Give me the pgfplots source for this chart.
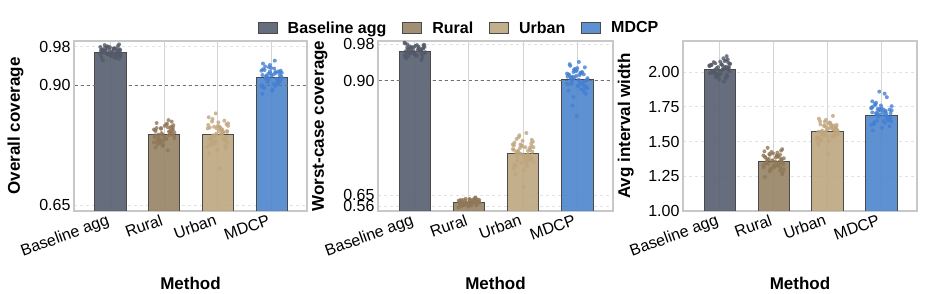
\documentclass[border=0pt]{standalone}
\usepackage{pgfplots}
\pgfplotsset{compat=1.18}
\usepackage{fontspec}
\setmainfont{Liberation Sans}
\definecolor{cBase}{HTML}{555E70}
\definecolor{cRural}{HTML}{968363}
\definecolor{cUrban}{HTML}{BCA67E}
\definecolor{cMDCP}{HTML}{4D85CD}
\definecolor{pBase}{HTML}{535A67}
\definecolor{pRural}{HTML}{8F7758}
\definecolor{pUrban}{HTML}{C0A57D}
\definecolor{pMDCP}{HTML}{4480D2}
\definecolor{edgec}{HTML}{4A4A4A}
\definecolor{gridv}{HTML}{D4D4D4}
\definecolor{gridh}{HTML}{E2E2E2}
\definecolor{frame}{HTML}{C8C8C8}
\definecolor{refl}{HTML}{707070}
\begin{document}
\begin{tikzpicture}
\useasboundingbox (0pt,0pt) rectangle (927pt,294pt);
\pgfplotsset{
  panel/.style={
    scale only axis, height=170pt,
    xmin=-0.68, xmax=3.66,
    xtick={0,1,2,3},
    xticklabels={Baseline agg,Rural,Urban,MDCP},
    x tick label style={rotate=20, anchor=north east, font=\fontsize{16}{19}\selectfont, inner sep=1pt, xshift=-4pt},
    y tick label style={font=\fontsize{16}{19}\selectfont},
    major tick length=0pt,
    xmajorgrids, ymajorgrids,
    x grid style={draw=gridv, line width=1pt},
    y grid style={draw=gridh, dashed, line width=0.8pt},
    axis line style={draw=frame, line width=1.2pt},
    xlabel={Method},
    xlabel style={font=\fontsize{17}{20}\selectfont\bfseries, at={(axis description cs:0.5,-0.459)}, anchor=base},
    ylabel style={font=\fontsize{17}{20}\selectfont\bfseries, anchor=base},
  },
  barB/.style={ybar, bar width=0.58, bar shift=0pt, fill=cBase, fill opacity=0.9, draw=edgec, line width=0.9pt, forget plot},
  barR/.style={ybar, bar width=0.58, bar shift=0pt, fill=cRural, fill opacity=0.9, draw=edgec, line width=0.9pt, forget plot},
  barU/.style={ybar, bar width=0.58, bar shift=0pt, fill=cUrban, fill opacity=0.9, draw=edgec, line width=0.9pt, forget plot},
  barM/.style={ybar, bar width=0.58, bar shift=0pt, fill=cMDCP, fill opacity=0.9, draw=edgec, line width=0.9pt, forget plot},
  pts/.style={only marks, mark=*, mark size=2.0pt, color=#1, fill=#1, mark options={solid, draw opacity=0, fill opacity=0.8}, forget plot},
  refline/.style={refl, dashed, line width=1pt, forget plot},
}
% ---------------- Panel 1 ----------------
\begin{axis}[panel, at={(74pt,83pt)}, anchor=south west, width=233pt,
  ymin=0.6376, ymax=0.992, ytick={0.65,0.90,0.98}, yticklabels={0.65,0.90,0.98},
  ylabel={Overall coverage}, ylabel style={at={(axis description cs:-0.232,0.5)}}]
\addplot[barB] coordinates {(0,0.968)};
\addplot[barR] coordinates {(1,0.797)};
\addplot[barU] coordinates {(2,0.797)};
\addplot[barM] coordinates {(3,0.915)};
\addplot[refline] coordinates {(-1,0.90) (4,0.90)};
\addplot[pts=pBase] coordinates {(-0.18,0.9714) (0.05,0.9594) (0.12,0.9754) (-0.07,0.981) (0.19,0.9658) (-0.13,0.9698) (0.02,0.9618) (0.16,0.985) (-0.02,0.9738) (-0.16,0.9674) (0.09,0.9562) (-0.10,0.9778) (0.14,0.969) (-0.05,0.9642) (0.07,0.9762) (-0.19,0.9794) (0.00,0.961) (0.11,0.9722) (-0.08,0.9666) (0.17,0.9746) (-0.14,0.9514) (0.04,0.9706) (-0.11,0.9834) (0.13,0.9634) (-0.03,0.9682) (0.18,0.973) (-0.17,0.9578) (0.08,0.977) (-0.06,0.965) (0.15,0.9626)};
\addplot[pts=pBase] coordinates {(-0.15,0.9738) (0.10,0.9666) (-0.01,0.9786) (0.19,0.9602) (-0.12,0.9706) (0.06,0.9762) (-0.19,0.965) (0.14,0.9818) (0.01,0.9626) (-0.09,0.9722) (0.17,0.9682) (-0.04,0.9802) (0.12,0.9586) (-0.16,0.9746) (0.03,0.969) (0.09,0.9642) (-0.07,0.977) (0.16,0.9546) (-0.11,0.9714) (0.06,0.9754)};
\addplot[pts=pRural] coordinates {(1.15,0.7985) (0.94,0.7835) (1.08,0.827) (0.83,0.806) (1.18,0.794) (0.97,0.773) (1.13,0.8135) (0.89,0.797) (1.04,0.788) (0.86,0.8105) (1.17,0.8165) (0.92,0.782) (1.11,0.803) (1.00,0.7925) (0.81,0.8075) (1.07,0.764) (0.95,0.800) (1.14,0.824) (0.90,0.7865) (1.09,0.7955) (0.84,0.8045) (0.98,0.776) (1.16,0.812) (1.02,0.7895) (0.87,0.785) (1.19,0.8015) (0.93,0.779) (1.12,0.809) (1.05,0.8195) (0.82,0.791)};
\addplot[pts=pRural] coordinates {(1.15,0.806) (0.90,0.7925) (1.01,0.815) (0.81,0.7805) (1.12,0.800) (0.94,0.8105) (1.19,0.7895) (0.86,0.821) (0.99,0.785) (1.09,0.803) (0.83,0.7955) (1.04,0.818) (0.88,0.7775) (1.16,0.8075) (0.97,0.797) (0.91,0.788) (1.07,0.812) (0.84,0.770) (1.11,0.8015) (0.94,0.809)};
\addplot[pts=pUrban] coordinates {(1.82,0.8168) (2.05,0.797) (2.12,0.7862) (1.93,0.8132) (2.19,0.8204) (1.87,0.779) (2.02,0.8042) (2.16,0.7916) (1.98,0.8096) (1.84,0.7574) (2.09,0.8006) (1.90,0.8294) (2.14,0.7844) (1.95,0.7952) (2.07,0.806) (1.81,0.7718) (2.00,0.815) (2.11,0.788) (1.92,0.7826) (2.17,0.8024) (1.86,0.7754) (2.04,0.8114) (1.89,0.824) (2.13,0.7898) (1.97,0.7988) (2.18,0.7808) (1.83,0.833) (2.08,0.8078) (1.94,0.7934) (2.15,0.7682) (2.03,0.727) (1.96,0.841)};
\addplot[pts=pUrban] coordinates {(1.85,0.8114) (2.10,0.8024) (1.99,0.7646) (2.19,0.815) (1.88,0.7862) (2.06,0.797) (1.81,0.8096) (2.14,0.7736) (2.01,0.8222) (1.91,0.7952) (2.17,0.8042) (1.96,0.7826) (2.12,0.8258) (1.84,0.788) (2.03,0.8132) (2.09,0.8006) (1.93,0.7772) (2.16,0.8186) (1.89,0.7916) (2.06,0.8078)};
\addplot[pts=pMDCP] coordinates {(3.15,0.921) (2.94,0.9105) (3.08,0.9255) (2.83,0.882) (3.18,0.918) (2.97,0.942) (3.13,0.9045) (2.89,0.9135) (3.04,0.9225) (2.86,0.894) (3.17,0.930) (2.92,0.9075) (3.11,0.903) (3.00,0.9195) (2.81,0.897) (3.07,0.927) (2.95,0.9375) (3.14,0.909) (2.90,0.9165) (3.09,0.9015) (2.84,0.945) (2.98,0.924) (3.16,0.912) (3.02,0.891) (2.87,0.9315) (3.19,0.915) (2.93,0.906) (3.12,0.9285) (3.05,0.9345) (2.82,0.900) (3.06,0.951)};
\addplot[pts=pMDCP] coordinates {(3.15,0.927) (2.90,0.9195) (3.01,0.888) (2.81,0.930) (3.12,0.906) (2.94,0.915) (3.19,0.9255) (2.86,0.8955) (2.99,0.936) (3.09,0.9135) (2.83,0.921) (3.04,0.903) (2.88,0.939) (3.16,0.9075) (2.97,0.9285) (2.91,0.918) (3.07,0.8985) (2.84,0.933) (3.11,0.9105) (2.94,0.924)};
\end{axis}
% ---------------- Panel 2 ----------------
\begin{axis}[panel, at={(378pt,83pt)}, anchor=south west, width=235pt,
  ymin=0.616, ymax=0.9866, ytick={0.626,0.65,0.90,0.98}, yticklabels={0.56,0.65,0.90,0.98},
  ylabel={Worst-case coverage}, ylabel style={at={(axis description cs:-0.23,0.5)}},
  legend columns=4,
  legend style={at={(axis description cs:0.345,1.076)}, anchor=center, draw=none, fill=none,
    font=\fontsize{16}{19}\selectfont\bfseries,
    /tikz/every even column/.append style={column sep=14pt}},
  legend image code/.code={\draw[#1] (0pt,-5.5pt) rectangle (19pt,5.5pt); \path (27pt,0pt);}]
\addlegendimage{fill=cBase, fill opacity=0.9, draw=edgec, line width=0.9pt}
\addlegendentry{Baseline agg}
\addlegendimage{fill=cRural, fill opacity=0.9, draw=edgec, line width=0.9pt}
\addlegendentry{Rural}
\addlegendimage{fill=cUrban, fill opacity=0.9, draw=edgec, line width=0.9pt}
\addlegendentry{Urban}
\addlegendimage{fill=cMDCP, fill opacity=0.9, draw=edgec, line width=0.9pt}
\addlegendentry{MDCP}
\addplot[barB] coordinates {(0,0.964)};
\addplot[barR] coordinates {(1,0.635)};
\addplot[barU] coordinates {(2,0.741)};
\addplot[barM] coordinates {(3,0.902)};
\addplot[refline] coordinates {(-1,0.90) (4,0.90)};
\addplot[pts=pBase] coordinates {(0.15,0.9587) (-0.06,0.9641) (0.08,0.9695) (-0.17,0.9524) (0.18,0.974) (-0.03,0.9605) (0.13,0.9578) (-0.11,0.9677) (0.04,0.9542) (-0.14,0.9722) (0.17,0.9785) (-0.08,0.9614) (0.11,0.9659) (0.00,0.9569) (-0.19,0.983) (0.07,0.9704) (-0.05,0.9632) (0.14,0.9506) (-0.10,0.9749) (0.09,0.965) (-0.16,0.9596) (-0.02,0.9731) (0.16,0.9767) (0.02,0.956) (-0.13,0.9686) (0.19,0.9623) (-0.07,0.9713) (0.12,0.9452) (0.05,0.9668) (-0.18,0.9812)};
\addplot[pts=pBase] coordinates {(0.15,0.9704) (-0.10,0.9623) (0.01,0.9758) (-0.19,0.9551) (0.12,0.9668) (-0.06,0.9731) (0.19,0.9605) (-0.14,0.9794) (-0.01,0.9578) (0.09,0.9686) (-0.17,0.9641) (0.04,0.9776) (-0.12,0.9533) (0.16,0.9713) (-0.03,0.965) (-0.09,0.9596) (0.07,0.974) (-0.16,0.9488) (0.11,0.9677) (-0.06,0.9722)};
\addplot[pts=pRural] coordinates {(0.82,0.6355) (1.05,0.6305) (1.12,0.645) (0.93,0.638) (1.19,0.634) (0.87,0.627) (1.02,0.6405) (1.16,0.635) (0.98,0.632) (0.84,0.6395) (1.09,0.6415) (0.90,0.630) (1.14,0.637) (0.95,0.6335) (1.07,0.6385) (0.81,0.624) (1.00,0.636) (1.11,0.644) (0.92,0.6315) (1.17,0.6345) (0.86,0.6375) (1.04,0.628) (0.89,0.640) (1.13,0.6325) (0.97,0.631) (1.18,0.6365) (0.83,0.629) (1.08,0.639) (0.94,0.6425) (1.15,0.633)};
\addplot[pts=pRural] coordinates {(0.85,0.639) (1.10,0.6365) (0.99,0.626) (1.19,0.640) (0.88,0.632) (1.06,0.635) (0.81,0.6385) (1.14,0.6285) (1.01,0.642) (0.91,0.6345) (1.17,0.637) (0.96,0.631) (1.12,0.643) (0.84,0.6325) (1.03,0.6395) (1.09,0.636) (0.93,0.6295) (1.16,0.641) (0.89,0.6335) (1.06,0.638)};
\addplot[pts=pUrban] coordinates {(2.15,0.763) (1.94,0.741) (2.08,0.729) (1.83,0.759) (2.18,0.767) (1.97,0.721) (2.13,0.749) (1.89,0.735) (2.04,0.755) (1.86,0.697) (2.17,0.745) (1.92,0.777) (2.11,0.727) (2.00,0.739) (1.81,0.751) (2.07,0.713) (1.95,0.761) (2.14,0.731) (1.90,0.725) (2.09,0.747) (1.84,0.717) (1.98,0.757) (2.16,0.771) (2.02,0.733) (1.87,0.743) (2.19,0.723) (1.93,0.781) (2.12,0.753) (2.05,0.737) (1.82,0.709) (2.01,0.669) (2.06,0.786)};
\addplot[pts=pUrban] coordinates {(2.15,0.757) (1.90,0.747) (2.01,0.705) (1.81,0.761) (2.12,0.729) (1.94,0.741) (2.19,0.755) (1.86,0.715) (1.99,0.769) (2.09,0.739) (1.83,0.749) (2.04,0.725) (1.88,0.773) (2.16,0.731) (1.97,0.759) (1.91,0.745) (2.07,0.719) (1.84,0.765) (2.11,0.735) (1.94,0.753)};
\addplot[pts=pMDCP] coordinates {(2.82,0.9088) (3.05,0.8969) (3.12,0.9139) (2.93,0.8646) (3.19,0.9054) (2.87,0.9326) (3.02,0.8901) (3.16,0.9003) (2.98,0.9105) (2.84,0.8782) (3.09,0.919) (2.90,0.8935) (3.14,0.8884) (2.95,0.9071) (3.07,0.8816) (2.81,0.9156) (3.00,0.9275) (3.11,0.8952) (2.92,0.9037) (3.17,0.8867) (2.86,0.936) (3.04,0.9122) (2.89,0.8986) (3.13,0.8748) (2.97,0.9207) (3.18,0.902) (2.83,0.8918) (3.08,0.9173) (2.94,0.9241) (3.15,0.885) (2.99,0.823) (3.03,0.941) (2.91,0.846)};
\addplot[pts=pMDCP] coordinates {(2.85,0.9122) (3.10,0.8969) (2.99,0.9224) (3.19,0.8833) (2.88,0.9054) (3.06,0.9173) (2.81,0.8935) (3.14,0.9292) (3.01,0.8884) (2.91,0.9088) (3.17,0.9003) (2.96,0.9258) (3.12,0.8799) (2.84,0.9139) (3.03,0.902) (3.09,0.8918) (2.93,0.919) (3.16,0.8714) (2.89,0.9071) (3.06,0.9156)};
\end{axis}
% ---------------- Panel 3 ----------------
\begin{axis}[panel, at={(683pt,83pt)}, anchor=south west, width=234pt,
  ymin=1.0, ymax=2.2245, ytick={1,1.25,1.5,1.75,2}, yticklabels={1.00,1.25,1.50,1.75,2.00},
  ylabel={Avg interval width}, ylabel style={at={(axis description cs:-0.226,0.5)}}]
\addplot[barB] coordinates {(0,2.02)};
\addplot[barR] coordinates {(1,1.355)};
\addplot[barU] coordinates {(2,1.575)};
\addplot[barM] coordinates {(3,1.69)};
\addplot[pts=pBase] coordinates {(-0.18,1.992) (0.05,2.016) (0.12,2.04) (-0.07,1.964) (0.19,2.06) (-0.13,2.00) (0.02,1.988) (0.16,2.032) (-0.02,1.972) (-0.16,2.052) (0.09,2.08) (-0.10,2.004) (0.14,2.024) (-0.05,1.984) (0.07,2.10) (-0.19,2.044) (0.00,2.012) (0.11,1.956) (-0.08,2.064) (0.17,2.02) (-0.14,1.996) (0.04,2.056) (-0.11,2.072) (0.13,1.98) (-0.03,2.036) (0.18,2.008) (-0.17,2.048) (0.08,1.932) (-0.06,2.028) (0.15,2.092) (0.13,2.115)};
\addplot[pts=pBase] coordinates {(-0.15,2.052) (0.10,2.032) (-0.01,1.948) (0.19,2.06) (-0.12,1.996) (0.06,2.02) (-0.19,2.048) (0.14,1.968) (0.01,2.076) (-0.09,2.016) (0.17,2.036) (-0.04,1.988) (0.12,2.084) (-0.16,2.00) (0.03,2.056) (0.09,2.028) (-0.07,1.976) (0.16,2.068) (-0.11,2.008) (0.06,2.044)};
\addplot[pts=pRural] coordinates {(1.15,1.37) (0.94,1.295) (1.08,1.395) (0.83,1.43) (1.18,1.335) (0.97,1.36) (1.13,1.31) (0.89,1.455) (1.04,1.385) (0.86,1.345) (1.17,1.275) (0.92,1.41) (1.11,1.355) (1.00,1.325) (0.81,1.40) (1.07,1.42) (0.95,1.305) (1.14,1.375) (0.90,1.34) (1.09,1.39) (0.84,1.245) (0.98,1.365) (1.16,1.445) (1.02,1.32) (0.87,1.35) (1.19,1.38) (0.93,1.285) (1.12,1.405) (1.05,1.33) (0.82,1.315)};
\addplot[pts=pRural] coordinates {(0.85,1.385) (1.10,1.34) (0.99,1.415) (1.19,1.30) (0.88,1.365) (1.06,1.40) (0.81,1.33) (1.14,1.435) (1.01,1.315) (0.91,1.375) (1.17,1.35) (0.96,1.425) (1.12,1.29) (0.84,1.39) (1.03,1.355) (1.09,1.325) (0.93,1.405) (1.16,1.265) (0.89,1.37) (1.06,1.395)};
\addplot[pts=pUrban] coordinates {(2.15,1.593) (1.94,1.5615) (2.08,1.6065) (1.83,1.476) (2.18,1.584) (1.97,1.656) (2.13,1.5435) (1.89,1.5705) (2.04,1.5975) (1.86,1.512) (2.17,1.62) (1.92,1.5525) (2.11,1.539) (2.00,1.5885) (1.81,1.521) (2.07,1.611) (1.95,1.6425) (2.14,1.557) (1.90,1.5795) (2.09,1.5345) (1.84,1.665) (1.98,1.602) (2.16,1.566) (2.02,1.503) (1.87,1.6245) (2.19,1.575) (1.93,1.548) (2.12,1.6155) (2.05,1.6335) (1.82,1.53) (2.01,1.41) (2.10,1.685)};
\addplot[pts=pUrban] coordinates {(2.15,1.602) (1.90,1.5615) (2.01,1.629) (1.81,1.5255) (2.12,1.584) (1.94,1.6155) (2.19,1.5525) (1.86,1.647) (1.99,1.539) (2.09,1.593) (1.83,1.5705) (2.04,1.638) (1.88,1.5165) (2.16,1.6065) (1.97,1.575) (1.91,1.548) (2.07,1.62) (1.84,1.494) (2.11,1.5885) (1.94,1.611)};
\addplot[pts=pMDCP] coordinates {(2.82,1.745) (3.05,1.69) (3.12,1.66) (2.93,1.735) (3.19,1.755) (2.87,1.64) (3.02,1.71) (3.16,1.675) (2.98,1.725) (2.84,1.58) (3.09,1.70) (2.90,1.78) (3.14,1.655) (2.95,1.685) (3.07,1.715) (2.81,1.62) (3.00,1.74) (3.11,1.665) (2.92,1.65) (3.17,1.705) (2.86,1.63) (3.04,1.73) (2.89,1.765) (3.13,1.67) (2.97,1.695) (3.18,1.645) (2.83,1.79) (3.08,1.72) (2.94,1.68) (3.15,1.61) (3.06,1.845) (3.10,1.82) (2.96,1.86)};
\addplot[pts=pMDCP] coordinates {(3.15,1.73) (2.90,1.705) (3.01,1.60) (2.81,1.74) (3.12,1.66) (2.94,1.69) (3.19,1.725) (2.86,1.625) (2.99,1.76) (3.09,1.685) (2.83,1.71) (3.04,1.65) (2.88,1.77) (3.16,1.665) (2.97,1.735) (2.91,1.70) (3.07,1.635) (2.84,1.75) (3.11,1.675) (2.94,1.72)};
\end{axis}
\end{tikzpicture}
\end{document}
